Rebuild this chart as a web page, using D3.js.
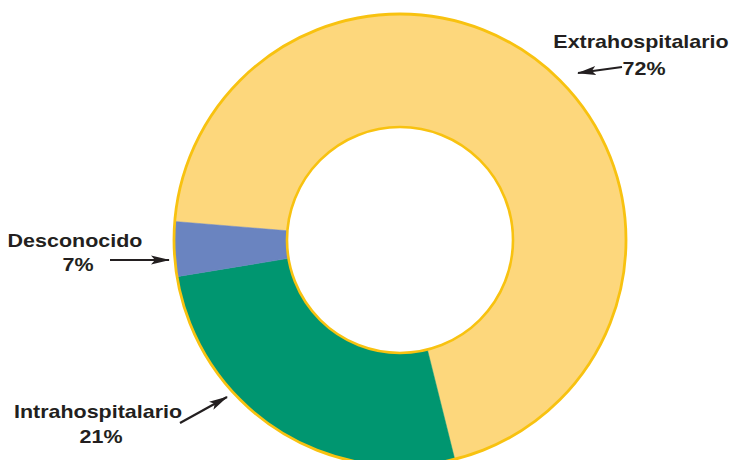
<!DOCTYPE html>
<html>
<head>
<meta charset="utf-8">
<script src="https://cdn.jsdelivr.net/npm/d3@7"></script>
<style>
  body { margin: 0; background: #fff; }
  .label { font-family: "Liberation Sans", Arial, sans-serif; font-weight: bold; font-size: 19px; fill: #231f20; }
</style>
</head>
<body>
<svg width="731" height="460"></svg>
<script>
var categories = ["Extrahospitalario", "Intrahospitalario", "Desconocido"];
var percentLabels = ["72%", "21%", "7%"];
// slice shares as drawn in the picture (degrees of arc / 3.6)
var sliceShares = [69.8, 26.3, 3.9];
var colors = ["#fdd77c", "#009670", "#6a84c0"];

var svg = d3.select("svg"),
    cx = 400, cy = 240,
    outerR = 226, innerR = 113;

var g = svg.append("g").attr("transform", "translate(" + cx + "," + cy + ")");

var startDeg = -85.3;
var pie = d3.pie()
    .sort(null)
    .startAngle(startDeg * Math.PI / 180)
    .endAngle(startDeg * Math.PI / 180 + 2 * Math.PI);

var arc = d3.arc().innerRadius(innerR).outerRadius(outerR);

var arcs = pie(sliceShares);

g.selectAll("path.slice")
    .data(arcs)
  .enter().append("path")
    .attr("class", "slice")
    .attr("d", arc)
    .attr("fill", function(d, i) { return colors[i]; })
    .attr("stroke", function(d, i) { return colors[i]; })
    .attr("stroke-width", 0.5);

g.append("circle")
    .attr("r", outerR)
    .attr("fill", "none")
    .attr("stroke", "#f8c210")
    .attr("stroke-width", 2.8);

g.append("circle")
    .attr("r", innerR)
    .attr("fill", "#fff")
    .attr("stroke", "#f8c210")
    .attr("stroke-width", 2.6);

// arrow marker
svg.append("defs").append("marker")
    .attr("id", "head")
    .attr("viewBox", "0 0 19 11")
    .attr("refX", 18).attr("refY", 5.5)
    .attr("markerWidth", 19).attr("markerHeight", 11)
    .attr("markerUnits", "userSpaceOnUse")
    .attr("orient", "auto")
  .append("path")
    .attr("d", "M0,1 L19,5.5 L0,10 L4,5.5 Z")
    .attr("fill", "#231f20");

var labelPos = [
  {x: 641, y1: 48, y2: 75},
  {x: 98, y1: 418, y2: 443},
  {x: 75, y1: 247, y2: 271}
];
var arrows = [
  {x1: 622, y1: 67, x2: 578, y2: 73},
  {x1: 180, y1: 423, x2: 227, y2: 397},
  {x1: 110, y1: 260, x2: 169, y2: 260}
];

var labels = svg.append("g");
categories.forEach(function(c, i) {
  labels.append("text")
      .attr("class", "label")
      .attr("transform", "translate(" + labelPos[i].x + "," + labelPos[i].y1 + ") scale(1.13,1)")
      .attr("text-anchor", "middle")
      .text(c);
  labels.append("text")
      .attr("class", "label")
      .attr("transform", "translate(" + (labelPos[i].x + 3) + "," + labelPos[i].y2 + ") scale(1.13,1)")
      .attr("text-anchor", "middle")
      .text(percentLabels[i]);
  labels.append("line")
      .attr("x1", arrows[i].x1).attr("y1", arrows[i].y1)
      .attr("x2", arrows[i].x2).attr("y2", arrows[i].y2)
      .attr("stroke", "#231f20")
      .attr("stroke-width", 2.2)
      .attr("marker-end", "url(#head)");
});
</script>
</body>
</html>
